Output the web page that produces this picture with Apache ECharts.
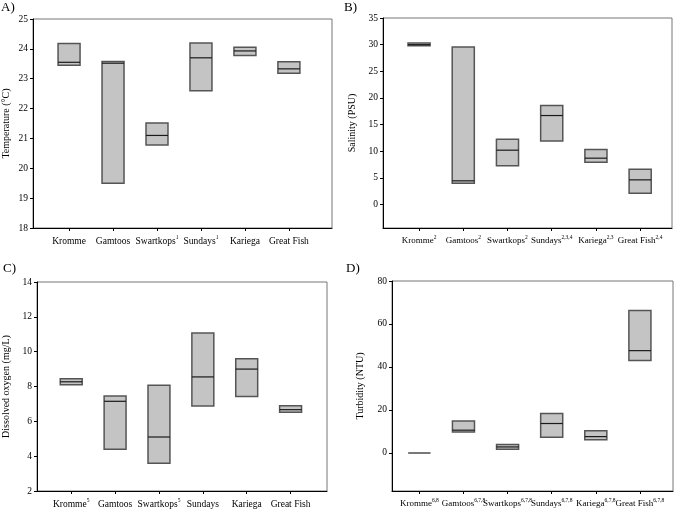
<!DOCTYPE html>
<html><head><meta charset="utf-8">
<script src="https://cdn.jsdelivr.net/npm/echarts@6/dist/echarts.min.js"></script>
<style>html,body{margin:0;padding:0;background:#fff}#c{width:685px;height:510px}</style>
</head><body><div id="c"></div>
<script>
// Categories and superscript notes per panel
const catsA = ["Kromme","Gamtoos","Swartkops","Sundays","Kariega","Great Fish"];
const supA  = ["","","1","1","",""];
const catsB = ["Kromme","Gamtoos","Swartkops","Sundays","Kariega","Great Fish"];
const supB  = ["2","2","2","2,3,4","2,3","2,4"];
const catsC = ["Kromme","Gamtoos","Swartkops","Sundays","Kariega","Great Fish"];
const supC  = ["5","","5","","",""];
const catsD = ["Kromme","Gamtoos","Swartkops","Sundays","Kariega","Great Fish"];
const supD  = ["6,8","6,7,8","6,7,8","6,7,8","6,7,8","6,7,8"];

// Values: low, median, high
const tempLow  = [23.45, 19.5, 20.78, 22.6, 23.78, 23.18];
const tempMed  = [23.55, 23.52, 21.1, 23.7, 23.93, 23.33];
const tempHigh = [24.18, 23.58, 21.52, 24.2, 24.05, 23.57];

const salLow  = [29.8, 4.0, 7.26, 11.9, 7.95, 2.13];
const salMed  = [30.0, 4.45, 10.2, 16.7, 8.7, 4.63];
const salHigh = [30.3, 29.55, 12.27, 18.6, 10.33, 6.63];

const doLow  = [8.1, 4.39, 3.6, 6.88, 7.43, 6.52];
const doMed  = [8.27, 7.15, 5.1, 8.55, 9.0, 6.67];
const doHigh = [8.45, 7.45, 8.07, 11.07, 9.6, 6.9];

const turLow  = [0, 9.8, 1.7, 7.3, 6.2, 43.0];
const turMed  = [0, 10.6, 2.8, 13.7, 7.6, 47.6];
const turHigh = [0, 14.9, 3.9, 18.4, 10.3, 66.3];

const tickA = [18,19,20,21,22,23,24,25];
const tickB = [0,5,10,15,20,25,30,35];
const tickC = [2,4,6,8,10,12,14];
const tickD = [0,20,40,60,80];
const catPos = [1,2,3,4,5,6];

const FONT = "Liberation Serif";

function boxData(lo, me, hi){ return lo.map((v,i)=>[i+1, v, me[i], hi[i]]); }

function renderBox(params, api){
  const x = api.value(0), lo = api.value(1), me = api.value(2), hi = api.value(3);
  const p1 = api.coord([x-0.25, hi]);
  const p2 = api.coord([x+0.25, lo]);
  const pm1 = api.coord([x-0.25, me]);
  const pm2 = api.coord([x+0.25, me]);
  const flat = (hi === lo);
  return {type:'group', children:[
    {type:'rect', shape:{x:p1[0], y:p1[1], width:p2[0]-p1[0], height:p2[1]-p1[1]},
     style:{fill:'#c4c4c4', stroke:'#555', lineWidth:1.5}},
    {type:'line', shape:{x1:pm1[0], y1:pm1[1], x2:pm2[0], y2:pm2[1]},
     style:{stroke: flat ? '#777' : '#1a1a1a', lineWidth: flat ? 1.5 : 1.2}}
  ]};
}

function labelFmt(cats, sups){
  return function(v){
    const i = Math.round(v)-1;
    return '{n|'+cats[i]+'}' + (sups[i] ? '{s|'+sups[i]+'}' : '');
  };
}
function mkRich(fs){
  return {
    n:{fontFamily:FONT, fontSize:fs, color:'#000', lineHeight:12},
    s:{fontFamily:FONT, fontSize:5.5, color:'#000', verticalAlign:'top', lineHeight:12, padding:[0,0,4,0]}
  };
}
const labFs = [9.5, 9, 9.5, 9];

const grids = [
  {left:33, top:19, width:299, height:209},
  {left:383, top:18, width:289, height:210},
  {left:35, top:282, width:292, height:209},
  {left:392, top:281, width:281, height:210}
];
const xr = [[0.18,6.98],[0.185,6.72],[0.22,6.83],[0.38,6.75]];
const yr = [[18,25],[-4.4,35],[2,14],[-17.7,80]];
const yt = [tickA, tickB, tickC, tickD];
const yn = ["Temperature (°C)","Salinity (PSU)","Dissolved oxygen (mg/L)","Turbidity (NTU)"];
const ygap = [22,26,26,27];
const cats = [[catsA,supA],[catsB,supB],[catsC,supC],[catsD,supD]];
const data = [boxData(tempLow,tempMed,tempHigh), boxData(salLow,salMed,salHigh),
              boxData(doLow,doMed,doHigh), boxData(turLow,turMed,turHigh)];

const option = {
  animation:false,
  grid: grids.map(g=>Object.assign({show:true, borderColor:'#777', borderWidth:1, backgroundColor:'transparent', containLabel:false}, g)),
  xAxis: grids.map((g,k)=>({
    type:'value', gridIndex:k, min:xr[k][0], max:xr[k][1],
    splitLine:{show:false},
    axisLine:{show:true, onZero:false, lineStyle:{color:'#000', width:1}},
    axisTick:{show:true, customValues:catPos, length:3, inside:false, lineStyle:{color:'#000'}},
    axisLabel:{customValues:catPos, formatter:labelFmt(cats[k][0],cats[k][1]), rich:mkRich(labFs[k]), margin:7, hideOverlap:false}
  })),
  yAxis: grids.map((g,k)=>({
    type:'value', gridIndex:k, min:yr[k][0], max:yr[k][1],
    splitLine:{show:false},
    axisLine:{show:true, onZero:false, lineStyle:{color:'#000', width:1}},
    axisTick:{show:true, customValues:yt[k], length:3, lineStyle:{color:'#000'}},
    axisLabel:{customValues:yt[k], fontFamily:FONT, fontSize:9.5, color:'#000', margin:5},
    name:yn[k], nameLocation:'middle', nameGap:ygap[k],
    nameTextStyle:{fontFamily:FONT, fontSize:10, color:'#000'}
  })),
  graphic:[
    {type:'text', left:1, top:1, style:{text:'A)', font:'13px "Liberation Serif"', fill:'#000'}},
    {type:'text', left:344, top:1, style:{text:'B)', font:'13px "Liberation Serif"', fill:'#000'}},
    {type:'text', left:3, top:262, style:{text:'C)', font:'13px "Liberation Serif"', fill:'#000'}},
    {type:'text', left:346, top:262, style:{text:'D)', font:'13px "Liberation Serif"', fill:'#000'}}
  ],
  series: data.map((d,k)=>({type:'custom', xAxisIndex:k, yAxisIndex:k, renderItem:renderBox, data:d, clip:false}))
};
const chart = echarts.init(document.getElementById('c'), null, {renderer:'canvas'});
chart.setOption(option);
</script></body></html>
